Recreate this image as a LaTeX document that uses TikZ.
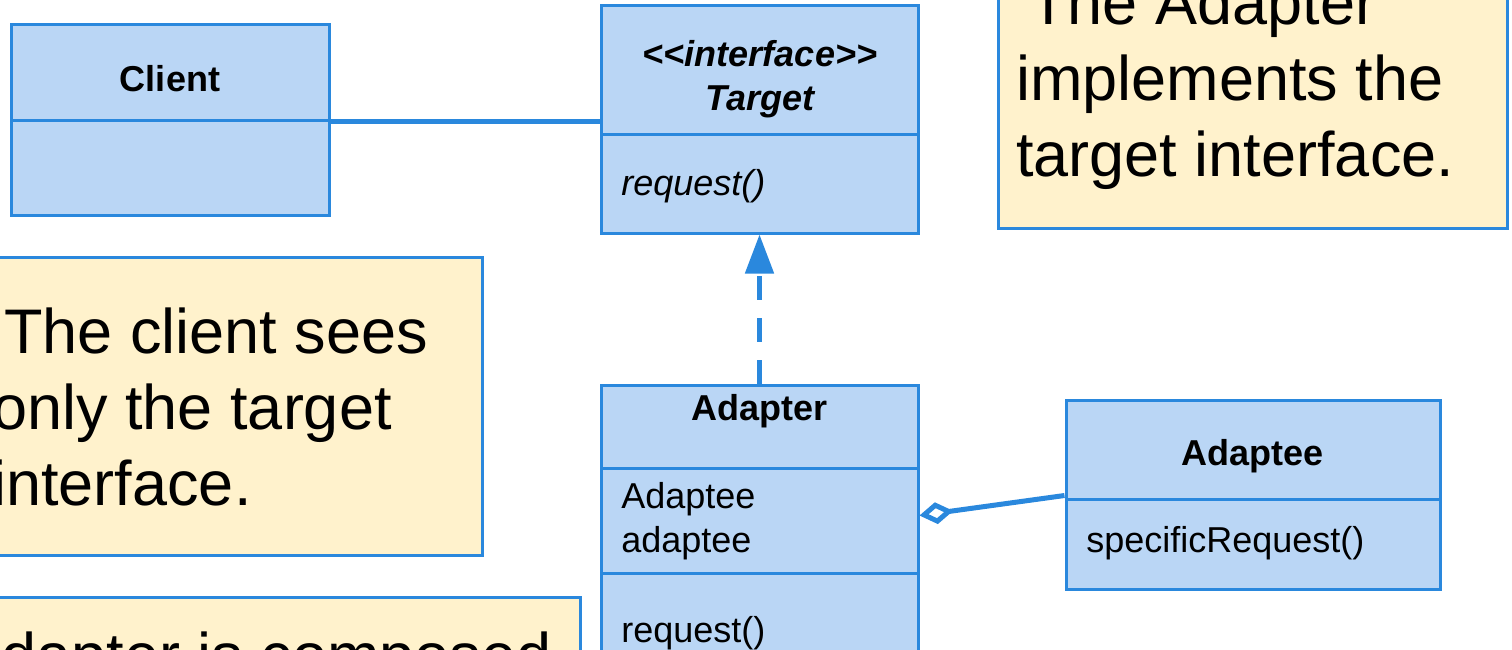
\documentclass[tikz,border=0pt]{standalone}
\usepackage{fontspec}
\setmainfont{Liberation Sans}
\usetikzlibrary{arrows.meta}
\usetikzlibrary{fit}
\definecolor{umlfill}{RGB}{186,214,245}
\definecolor{umlline}{RGB}{42,136,221}
\definecolor{notefill}{RGB}{255,242,204}

\begin{document}
\begin{tikzpicture}[x=0.5pt, y=-0.5pt, > = {Triangle[length=19.5pt, width=14pt]},
    umlbox/.style={draw=umlline, fill=umlfill, line width=1.5pt, inner sep=0pt},
    notebox/.style={draw=umlline, fill=notefill, line width=1.5pt, inner sep=0pt},
    umltext/.style={inner sep=0pt, font=\fontsize{18pt}{22pt}\selectfont},
    notetext/.style={inner sep=0pt, align=left, font=\fontsize{31.5pt}{38pt}\selectfont},
    link/.style={draw=umlline, line width=2.5pt}]

         \useasboundingbox (0,0) rectangle (1512,649);
         \clip (0,0) rectangle (1512,649);

         \node[umlbox, fit={(11,24) (329,120)}] (clienthead) {};
         \node[umlbox, fit={(11,120) (329,215)}] (clientattr) {};
         \node(clientname) at (170,91) [umltext, anchor=base]{\bfseries Client};

         \node[umlbox, fit={(601,5) (918,134)}] (targethead) {};
         \node[umlbox, fit={(601,134) (918,233)}] (targetops) {};
         \node(targetname) at (760,110) [umltext, anchor=base, align=center]{\bfseries\itshape <{}<interface>{}>\\\bfseries\itshape Target};
         \node(targetop) at (621,195) [umltext, anchor=base west]{\itshape request()};

         \node[umlbox, fit={(601,385) (918,468)}] (adapterhead) {};
         \node[umlbox, fit={(601,468) (918,573)}] (adapterattr) {};
         \node[umlbox, fit={(601,573) (918,700)}] (adapterops) {};
         \node(adaptername) at (760,420) [umltext, anchor=base]{\bfseries Adapter};
         \node(adapterfield) at (621,552) [umltext, anchor=base west, align=left]{Adaptee\\adaptee};
         \node(adapterop) at (621,642) [umltext, anchor=base west]{request()};

         \node[umlbox, fit={(1066,400) (1440,499)}] (adapteehead) {};
         \node[umlbox, fit={(1066,499) (1440,589)}] (adapteeops) {};
         \node(adapteename) at (1253,465) [umltext, anchor=base]{\bfseries Adaptee};
         \node(adapteeop) at (1086,552) [umltext, anchor=base west]{specificRequest()};

         \node[notebox, fit={(998,-20) (1507,228)}] (implnote) {};
         \node(impltext) at (1016,176) [notetext, anchor=base west]{\hspace*{6.5pt}The Adapter\\implements the\\target interface.};
         \node[notebox, fit={(-20,257) (482,555)}] (clientnote) {};
         \node(clienttext) at (-8,505) [notetext, anchor=base west]{\hspace*{6pt}The client sees\\only the target\\interface.};
         \node[notebox, fit={(-20,597) (580,700)}] (composenote) {};
         \node(composetext) at (552,677) [notetext, anchor=base east]{dapter is composed};

         \draw[link] (clienthead.south east) -- (targethead.west |- clienthead.south east);
         \draw[link, ->, dash pattern=on 12pt off 9pt] (adapterhead.north) -- (targetops.south);
         \draw[link, {Diamond[fill=white, length=17pt, width=11pt]}-] ([yshift=2.5pt]adapterattr.east) -- ([yshift=2.5pt]adapteehead.south west);

\end{tikzpicture}
\end{document}
